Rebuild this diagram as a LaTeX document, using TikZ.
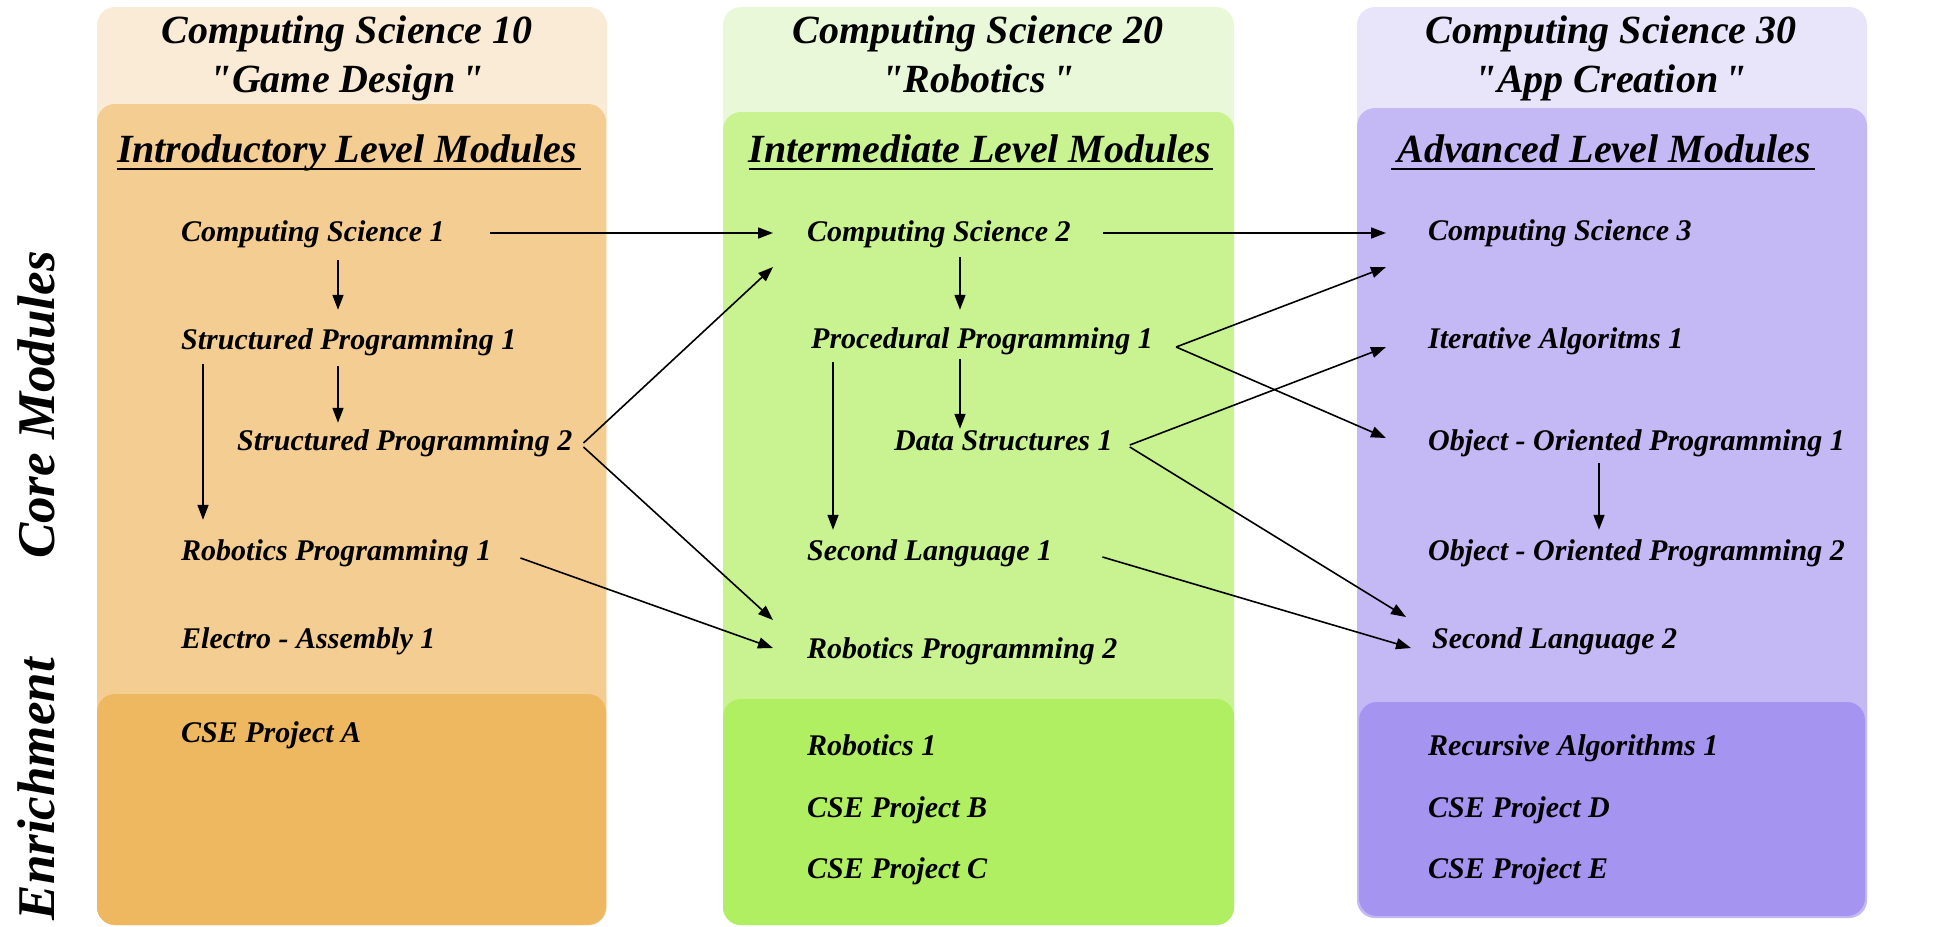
\documentclass[tikz,border=0pt]{standalone}
\usepackage{fontspec}
\setmainfont{Liberation Serif}[Ligatures=TeXOff]
\usetikzlibrary{arrows.meta,calc}
\definecolor{oA}{HTML}{FAEBD7}
\definecolor{iA}{HTML}{F4CD93}
\definecolor{eA}{HTML}{EEB860}
\definecolor{oB}{HTML}{EAF8DA}
\definecolor{iB}{HTML}{C9F391}
\definecolor{eB}{HTML}{B0EF62}
\definecolor{oC}{HTML}{E8E4FA}
\definecolor{iC}{HTML}{C4B8F5}
\definecolor{eC}{HTML}{A594F0}
\begin{document}
\begin{tikzpicture}[x=1pt,y=-1pt,
  item/.style={anchor=base west, inner sep=0pt, text height=21pt, text depth=7pt,
    font=\fontsize{30}{36}\selectfont\bfseries\itshape},
  hdr/.style={anchor=base, inner sep=0pt, font=\fontsize{40}{48}\selectfont\bfseries\itshape},
  sidelbl/.style={rotate=90, inner sep=0pt, font=\fontsize{53}{60}\selectfont\bfseries\itshape},
  uline/.style={line width=2pt},
  arr/.style={line width=1.6pt, -{Triangle[length=15pt,width=11pt]}},
  panel/.style={rounded corners=18pt}]
\useasboundingbox (0,0) rectangle (1942,926);
% column backgrounds
\fill[oA, panel] (97,7) rectangle (607,925);
\fill[iA, panel] (97,104) rectangle (606,925);
\fill[eA, panel] (97,694) rectangle (606,925);
\fill[oB, panel] (723,7) rectangle (1234,925);
\fill[iB, panel] (723,112) rectangle (1234,925);
\fill[eB, panel] (723,699) rectangle (1234,925);
\fill[oC, panel] (1357,7) rectangle (1867,918);
\fill[iC, panel] (1357,108) rectangle (1867,918);
\fill[eC, panel] (1359,702) rectangle (1865,916);
% side labels
\node[sidelbl, anchor=base] (core) at (54,405) {Core Modules};
\node[sidelbl, anchor=base east] (enr) at (54,658) {Enrichment};
% headers
\node[hdr] (t1a) at (347,43) {Computing Science 10};
\node[hdr] (t1b) at (347,92) {"Game Design\,"};
\node[hdr] (t2a) at (978,43) {Computing Science 20};
\node[hdr] (t2b) at (978,92) {"Robotics\,"};
\node[hdr] (t3a) at (1611,43) {Computing Science 30};
\node[hdr] (t3b) at (1611,92) {"App Creation\,"};
\node[hdr] (h1) at (347,162) {Introductory Level Modules};
\node[hdr] (h2) at (980,162) {Intermediate Level Modules};
\node[hdr] (h3) at (1604,162) {Advanced Level Modules};
\draw[uline] ($(h1.base west)+(0,7)$) -- ($(h1.base east)+(4,7)$);
\draw[uline] ($(h2.base west)+(0,7)$) -- ($(h2.base east)+(2,7)$);
\draw[uline] ($(h3.base west)+(-6,7)$) -- ($(h3.base east)+(4,7)$);
% column 1 items
\node[item] (cs1) at (181,241) {Computing Science 1};
\node[item] (sp1) at (181,349) {Structured Programming 1};
\node[item] (sp2) at (237,450) {Structured Programming 2};
\node[item] (rp1) at (181,560) {Robotics Programming 1};
\node[item] (ea1) at (181,648) {Electro - Assembly 1};
\node[item] (cpa) at (181,742) {CSE Project A};
% column 2 items
\node[item] (cs2) at (807,241) {Computing Science 2};
\node[item] (pp1) at (811,348) {Procedural Programming 1};
\node[item] (ds1) at (894,450) {Data Structures 1};
\node[item] (sl1) at (807,560) {Second Language 1};
\node[item] (rp2) at (807,658) {Robotics Programming 2};
\node[item] (rb1) at (807,755) {Robotics 1};
\node[item] (cpb) at (807,817) {CSE Project B};
\node[item] (cpc) at (807,878) {CSE Project C};
% column 3 items
\node[item] (cs3) at (1428,240) {Computing Science 3};
\node[item] (ia1) at (1428,348) {Iterative Algoritms 1};
\node[item] (oo1) at (1428,450) {Object - Oriented Programming 1};
\node[item] (oo2) at (1428,560) {Object - Oriented Programming 2};
\node[item] (sl2) at (1432,648) {Second Language 2};
\node[item] (ra1) at (1428,755) {Recursive Algorithms 1};
\node[item] (cpd) at (1428,817) {CSE Project D};
\node[item] (cpe) at (1428,878) {CSE Project E};
% arrows
\draw[arr] ($(cs1.east)+(45,-1)$) -- ($(cs2.west)+(-34,-1)$);
\draw[arr] ($(cs1.south west)+(157,12)$) -- ($(sp1.north west)+(157,-18)$);
\draw[arr] ($(sp1.south west)+(157,10)$) -- ($(sp2.north west)+(101,-6)$);
\draw[arr] ($(sp1.south west)+(22,8)$) -- ($(rp1.north west)+(22,-19)$);
\draw[arr] ($(sp2.east)+(11,0)$) -- ($(cs2.west)+(-34,33)$);
\draw[arr] ($(sp2.east)+(11,4)$) -- ($(rp2.west)+(-34,-31)$);
\draw[arr] ($(rp1.east)+(29,5)$) -- ($(rp2.west)+(-34,-3)$);
\draw[arr] ($(cs2.east)+(32,-1)$) -- ($(cs3.west)+(-42,0)$);
\draw[arr] ($(cs2.south west)+(153,9)$) -- ($(pp1.north west)+(149,-17)$);
\draw[arr] ($(pp1.south west)+(149,4)$) -- ($(ds1.north west)+(66,0)$);
\draw[arr] ($(pp1.south west)+(22,7)$) -- ($(sl1.north west)+(26,-9)$);
\draw[arr] ($(pp1.east)+(23,6)$) -- ($(cs3.west)+(-42,34)$);
\draw[arr] ($(pp1.east)+(23,6)$) -- ($(oo1.west)+(-42,-5)$);
\draw[arr] ($(ds1.east)+(17,2)$) -- ($(ia1.west)+(-42,6)$);
\draw[arr] ($(ds1.east)+(17,4)$) -- ($(sl2.west)+(-26,-24)$);
\draw[arr] ($(sl1.east)+(50,4)$) -- ($(sl2.west)+(-21,7)$);
\draw[arr] ($(oo1.south west)+(171,6)$) -- ($(oo2.north west)+(171,-9)$);
\end{tikzpicture}
\end{document}
